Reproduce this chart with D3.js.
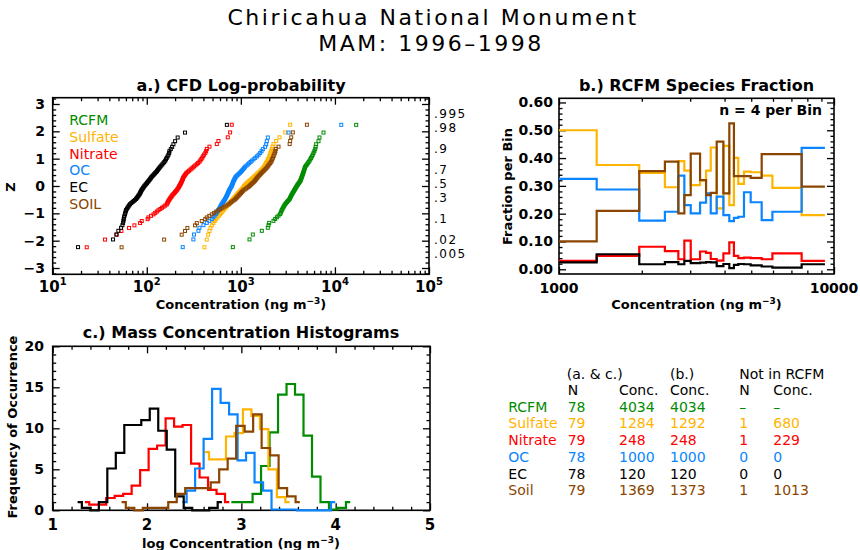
<!DOCTYPE html>
<html><head><meta charset="utf-8">
<script src="https://d3js.org/d3.v7.min.js"></script>
<style>html,body{margin:0;padding:0;background:#fff}svg{display:block}</style>
</head><body>
<svg id="chart" width="860" height="550" xmlns="http://www.w3.org/2000/svg"></svg>
<script>
// ================= DATA =================
const speciesNames  = ["RCFM","Sulfate","Nitrate","OC","EC","SOIL"];
const speciesColors = ["#008c00","#ffb400","#ff0000","#0a84ff","#000000","#8b4500"];

// a.) sorted daily concentrations (ng m-3)
const cfdRCFM = [822,1236,1341,1671,1935,1967,2000,2224,2316,2414,
  2515,2619,2655,2691,2728,2772,2818,2864,2912,2962,
  3025,3090,3157,3225,3294,3332,3370,3408,3447,3486,
  3531,3577,3624,3672,3720,3767,3815,3864,3913,3960,
  4020,4080,4140,4205,4274,4309,4344,4380,4416,4453,
  4489,4526,4563,4600,4637,4674,4712,4751,4790,4829,
  4932,5037,5144,5255,5370,5476,5584,5694,5806,5918,
  6042,6167,6240,6318,6690,6855,7564,16840];
const cfdSulfate = [410,434,449,464,475,491,511,528,546,564,
  583,602,619,636,653,669,686,703,720,738,
  754,771,788,805,822,838,855,872,889,906,
  923,942,960,980,999,1017,1036,1055,1074,1084,
  1105,1127,1149,1172,1205,1235,1266,1298,1330,1362,
  1395,1429,1464,1500,1539,1578,1618,1658,1698,1739,
  1768,1798,1828,1858,1888,1920,1952,1984,2016,2049,
  2070,2100,2135,2180,2224,2374,2575,2958,3343];
const cfdNitrate = [23.0,36.0,47.9,53.7,64.8,73.9,84.9,88.4,102,104,
  111,118,123,128,133,139,145,151,157,163,
  165,167,169,172,174,177,180,183,186,189,
  193,197,200,204,208,211,214,217,220,222,
  225,227,230,232,235,237,239,241,243,245,
  249,253,257,261,266,274,282,291,299,308,
  318,329,340,351,363,371,380,
  389,398,407,420,428,435,464,555,578,726,769,800];
const cfdOC = [241,313,318,354,363,400,434,463,491,511,
  526,541,553,566,578,588,598,607,617,627,
  637,648,658,669,680,688,696,704,712,720,
  727,734,741,748,756,765,775,784,793,803,
  809,815,822,828,835,845,854,864,874,884,
  905,926,951,975,999,1020,1042,1065,1088,1111,
  1148,1186,1225,1266,1309,1364,1422,1482,1543,1604,
  1659,1714,1812,1858,1888,1935,3212,11670];
const cfdEC = [18.6,43.8,47.5,49.9,53.3,55.1,56.0,56.5,56.9,57.4,
  58.0,58.7,59.2,59.8,60.3,61.5,62.7,63.9,65.1,66.4,
  68.4,70.5,72.6,74.7,76.9,78.2,79.5,80.9,82.2,83.6,
  84.5,85.5,86.4,87.3,88.3,89.6,91.0,92.4,93.7,95.2,
  97.0,98.7,100.5,102.2,104,105.8,107.6,109.4,111.2,113,
  115.5,118,120.5,123,126,128.5,131,133.5,136,139,
  142.5,146,150,153.5,157,160,163,166.5,170,173,
  174,180,186,192,200,213,255,710];
const cfdSoil = [54,153,235,255,270,326,340,384,417,434,
  462,491,519,548,578,607,638,670,703,738,
  762,787,814,841,869,887,906,926,946,966,
  985,1005,1025,1045,1066,1100,1135,1170,1205,1235,
  1260,1290,1320,1352,1384,1407,1431,1455,1479,1503,
  1535,1568,1601,1636,1671,1713,1756,1799,1843,1888,
  1928,1968,2010,2054,2100,2130,2160,2195,2228,2261,
  2300,2330,2355,2514,3300,3343,3430,3572,5037];

const probLabels = [".995",".98",".9",".7",".5",".3",".1",".02",".005"];
const probValues = [0.995,0.98,0.9,0.7,0.5,0.3,0.1,0.02,0.005];

// b.) species fraction of RCFM per bin of 4 samples
const fracBinEdges = [1000,1371,1958,2427,2716,2856,3013,3258,3426,3563,3745,3961,4162,4326,4487,4706,4978,5458,5970,7627,9268];
const fracSulfate = [0.500,0.375,0.347,0.295,0.389,0.355,0.303,0.320,0.355,0.438,0.219,0.444,0.231,0.401,0.307,0.351,0.349,0.337,0.293,0.195];
const fracNitrate = [0.030,0.048,0.081,0.065,0.036,0.103,0.036,0.064,0.059,0.037,0.031,0.057,0.097,0.048,0.040,0.042,0.040,0.036,0.057,0.030];
const fracOC      = [0.325,0.287,0.175,0.207,0.337,0.231,0.201,0.240,0.273,0.201,0.261,0.195,0.173,0.185,0.189,0.277,0.241,0.177,0.207,0.437];
const fracEC      = [0.025,0.054,0.018,0.026,0.018,0.030,0.022,0.024,0.026,0.025,0.011,0.019,0.004,0.016,0.019,0.018,0.014,0.010,0.006,0.018];
const fracSoil    = [0.100,0.210,0.353,0.387,0.201,0.267,0.416,0.321,0.267,0.275,0.459,0.273,0.525,0.335,0.335,0.335,0.329,0.414,0.414,0.297];

// c.) histograms of log10 concentration (first bin centre + frequencies)
const histBinWidth = 0.09;
const histStartRCFM = 2.894, histRCFM = [1.0,1.0,1.0,2.0,5.4,9.5,14.1,15.4,14.1,9.1,4.1,1.0,0.1,0.3,1.0];
const histStartSulfate = 2.612, histSulfate = [7.1,6.2,6.2,9.0,9.4,12.3,11.5,9.9,5.0,1.6,1.0];
const histStartNitrate = 1.342, histNitrate = [1.0,0.7,0.7,1.5,1.75,2.0,3.0,4.9,7.5,7.9,11.2,10.2,10.4,5.7,4.0,2.5,2.0,1.0];
const histStartOC = 2.375, histOC = [1.0,2.4,5.1,8.7,14.8,13.1,11.7,6.1,7.0,3.4,2.4,0.1,0.1,0.1,0,0,0,0,1.0];
const histStartEC = 1.264, histEC = [1.0,0.3,0,1.0,5.1,7.0,10.4,10.4,11.0,12.4,9.7,7.4,1.7,0.3,0,0,0.3,1.0];
const histStartSoil = 1.730, histSoil = [1.0,0.3,0,0.3,0.3,0.3,1.0,2.0,2.7,2.7,2.7,3.4,5.0,6.3,10.3,9.6,11.7,7.6,6.7,2.7,1.7,1.0];

// summary table
const tableRowNames = ["RCFM","Sulfate","Nitrate","OC","EC","Soil"];
const tableN        = ["78","79","79","78","78","79"];
const tableConcAC   = ["4034","1284","248","1000","120","1369"];
const tableConcB    = ["4034","1292","248","1000","120","1373"];
const tableNotN     = ["\u2013","1","1","0","0","1"];
const tableNotConc  = ["\u2013","680","229","0","0","1013"];

// ================= HELPERS =================
const svg = d3.select("#chart");
const FONT = "'DejaVu Sans', sans-serif";

function probit(p){
  const a=[-3.969683028665376e+01,2.209460984245205e+02,-2.759285104469687e+02,1.383577518672690e+02,-3.066479806614716e+01,2.506628277459239e+00];
  const b=[-5.447609879822406e+01,1.615858368580409e+02,-1.556989798598866e+02,6.680131188771972e+01,-1.328068155288572e+01];
  const c=[-7.784894002430293e-03,-3.223964580411365e-01,-2.400758277161838e+00,-2.549732539343734e+00,4.374664141464968e+00,2.938163982698783e+00];
  const d=[7.784695709041462e-03,3.224671290700398e-01,2.445134137142996e+00,3.754408661907416e+00];
  const pl=0.02425;
  if(p<pl){const q=Math.sqrt(-2*Math.log(p));return (((((c[0]*q+c[1])*q+c[2])*q+c[3])*q+c[4])*q+c[5])/((((d[0]*q+d[1])*q+d[2])*q+d[3])*q+1);}
  if(p>1-pl){const q=Math.sqrt(-2*Math.log(1-p));return -(((((c[0]*q+c[1])*q+c[2])*q+c[3])*q+c[4])*q+c[5])/((((d[0]*q+d[1])*q+d[2])*q+d[3])*q+1);}
  const q=p-0.5,r=q*q;
  return (((((a[0]*r+a[1])*r+a[2])*r+a[3])*r+a[4])*r+a[5])*q/(((((b[0]*r+b[1])*r+b[2])*r+b[3])*r+b[4])*r+1);
}

function text(x,y,s,o={}){
  const t = svg.append("text").attr("x",x).attr("y",y)
    .attr("font-family",FONT).attr("font-size",o.size||14)
    .attr("font-weight",o.bold?"bold":"normal")
    .attr("text-anchor",o.anchor||"start")
    .attr("fill",o.color||"#000").text(s);
  if(o.ls) t.attr("letter-spacing",o.ls);
  return t;
}

function ticks(scale, orient, pos, values, size){
  const mk = {bottom:d3.axisBottom,top:d3.axisTop,left:d3.axisLeft,right:d3.axisRight}[orient];
  const ax = mk(scale).tickValues(values).tickSizeInner(-size).tickSizeOuter(0).tickFormat("");
  const g = svg.append("g")
    .attr("transform",(orient==="bottom"||orient==="top")?`translate(0,${pos})`:`translate(${pos},0)`)
    .call(ax);
  g.select(".domain").remove();
  g.selectAll("line").attr("stroke","#000").attr("stroke-width",1.3);
}

function boxAxes(x, y, xMajor, xMinor, yMajor, yMinor){
  const [x0,x1] = x.range(), [y1,y0] = y.range();
  ticks(x,"bottom",y1,xMajor,7); ticks(x,"bottom",y1,xMinor,3.5);
  ticks(x,"top",y0,xMajor,7);    ticks(x,"top",y0,xMinor,3.5);
  ticks(y,"left",x0,yMajor,7);   ticks(y,"left",x0,yMinor,3.5);
  ticks(y,"right",x1,yMajor,7);  ticks(y,"right",x1,yMinor,3.5);
  svg.append("rect").attr("x",x0).attr("y",y0).attr("width",x1-x0).attr("height",y1-y0)
    .attr("fill","none").attr("stroke","#000").attr("stroke-width",1.6);
}

function axisTitle(x,y,pre,rot){
  const t = svg.append("text").attr("font-family",FONT).attr("font-size",13).attr("font-weight","bold")
    .attr("text-anchor","middle");
  if(rot){ t.attr("transform",`translate(${x},${y}) rotate(-90)`); } else { t.attr("x",x).attr("y",y); }
  t.append("tspan").text(pre);
  return t;
}
function concTitle(x,y,pre){
  const t = axisTitle(x,y,pre+"(ng m");
  t.append("tspan").attr("dy",-5).attr("font-size",9).text("\u22123");
  t.append("tspan").attr("dy",5).text(")");
}

// ================= TITLE =================
text(433,24.5,"Chiricahua National Monument",{size:22,anchor:"middle",ls:2.5});
text(431,50.5,"MAM: 1996\u20131998",{size:22,anchor:"middle",ls:2.5});

// ================= PANEL A =================
const xA = d3.scaleLog().domain([10,1e5]).range([52.7,429]);
const yA = d3.scaleLinear().domain([-3.23,3.23]).range([274.3,97.7]);
const decMinor = (lo,hi)=>{const r=[];for(let e=lo;e<hi;e++)for(let m=2;m<=9;m++)r.push(m*Math.pow(10,e));return r;};
const zMinor = d3.range(-16,17).map(i=>i/5).filter(v=>Math.abs(v-Math.round(v))>1e-9);
boxAxes(xA,yA,[10,100,1000,1e4,1e5],decMinor(1,5),d3.range(-3,4),zMinor);

text(241,91,"a.) CFD Log-probability",{size:16,bold:true,anchor:"middle"});
d3.range(-3,4).forEach(v=>text(45,yA(v)+5,String(v).replace("-","\u2212"),{size:14,bold:true,anchor:"end"}));
[1,2,3,4,5].forEach(e=>{
  const t = svg.append("text").attr("x",xA(Math.pow(10,e))).attr("y",292).attr("text-anchor","middle")
    .attr("font-family",FONT).attr("font-size",15).attr("font-weight","bold");
  t.append("tspan").text("10");
  t.append("tspan").attr("dy",-7).attr("font-size",10).text(String(e));
});
probLabels.forEach((s,i)=>text(434,yA(probit(probValues[i]))+2,s,{size:12,ls:1.5}));
axisTitle(15,187,"Z",true);
concTitle(241,309,"Concentration ");

const cfdSeries = [cfdRCFM,cfdSulfate,cfdNitrate,cfdOC,cfdEC,cfdSoil];
const gA = svg.append("g");
cfdSeries.forEach((vals,si)=>{
  const n = vals.length;
  gA.append("g").selectAll("rect").data(vals).join("rect")
    .attr("x",(v)=>xA(v)-1.5).attr("y",(v,i)=>yA(probit((i+1)/(n+1)))-1.5)
    .attr("width",3).attr("height",3)
    .attr("fill","none").attr("stroke",speciesColors[si]).attr("stroke-width",1);
});
speciesNames.forEach((s,i)=>text(69.3,125.3+16.7*i,s,{size:14,color:speciesColors[i]}));

// ================= PANEL B =================
const xB = d3.scaleLog().domain([1000,10000]).range([559,834]);
const yB = d3.scaleLinear().domain([-0.017,0.615]).range([274,98.3]);
const yBMajor = d3.range(0,7).map(i=>i/10);
const yBMinor = d3.range(0,31).map(i=>i/50).filter((v,i)=>i%5!==0);
boxAxes(xB,yB,[1000,10000],d3.range(2,10).map(m=>m*1000),yBMajor,yBMinor);
text(696.5,91,"b.) RCFM Species Fraction",{size:16,bold:true,anchor:"middle"});
yBMajor.forEach(v=>text(553,yB(v)+5,d3.format(".2f")(v),{size:14,bold:true,anchor:"end"}));
[1000,10000].forEach(v=>text(xB(v),293,String(v),{size:14,bold:true,anchor:"middle"}));
axisTitle(512,186.5,"Fraction per Bin",true);
concTitle(696.5,309,"Concentration ");
text(822,115,"n = 4 per Bin",{size:14,bold:true,anchor:"end"});

const fracSeries = [[fracSulfate,1],[fracNitrate,2],[fracOC,3],[fracEC,4],[fracSoil,5]];
const lineB = d3.line().x(d=>xB(d[0])).y(d=>yB(d[1])).curve(d3.curveStepAfter);
fracSeries.forEach(([vals,ci])=>{
  const pts = vals.map((v,i)=>[fracBinEdges[i],v]);
  pts.push([fracBinEdges[fracBinEdges.length-1],vals[vals.length-1]]);
  svg.append("path").attr("d",lineB(pts)).attr("fill","none")
    .attr("stroke",speciesColors[ci]).attr("stroke-width",2.2).attr("stroke-linejoin","miter");
});

// ================= PANEL C =================
const xC = d3.scaleLinear().domain([1,5]).range([52.7,430]);
const yC = d3.scaleLinear().domain([0,20]).range([510.3,346.3]);
boxAxes(xC,yC,[1,2,3,4,5],d3.range(5,26).map(i=>i/5).filter(v=>Math.abs(v-Math.round(v))>1e-9),
  [0,5,10,15,20],d3.range(0,21).filter(v=>v%5!==0));
text(241,338,"c.) Mass Concentration Histograms",{size:16,bold:true,anchor:"middle"});
[0,5,10,15,20].forEach(v=>text(44,yC(v)+5,String(v),{size:14,bold:true,anchor:"end"}));
[1,2,3,4,5].forEach(v=>text(xC(v),530,String(v),{size:15,bold:true,anchor:"middle"}));
axisTitle(17,427,"Frequency of Occurrence",true);
concTitle(241,548,"log Concentration ");

const histSeries = [[histStartRCFM,histRCFM,0],[histStartSulfate,histSulfate,1],[histStartNitrate,histNitrate,2],
  [histStartOC,histOC,3],[histStartEC,histEC,4],[histStartSoil,histSoil,5]];
const lineC = d3.line().x(d=>xC(d[0])).y(d=>yC(d[1])).curve(d3.curveStep);
histSeries.forEach(([s0,vals,ci])=>{
  const pts = vals.map((v,i)=>[s0+i*histBinWidth,v]);
  svg.append("path").attr("d",lineC(pts)).attr("fill","none")
    .attr("stroke",speciesColors[ci]).attr("stroke-width",2.2);
});

// ================= TABLE =================
const colX = [508.3,567.7,619,670,739.3,773.3];
text(566.7,378.5,"(a. & c.)",{size:14});
text(670,378.5,"(b.)",{size:14});
text(739.3,378.5,"Not in RCFM",{size:14});
[["N",567.7],["Conc.",619],["Conc.",670],["N",739.3],["Conc.",773.3]].forEach(([s,x])=>text(x,395,s,{size:14}));
tableRowNames.forEach((nm,i)=>{
  const y = 411.7+16.7*i, col = speciesColors[i];
  [nm,tableN[i],tableConcAC[i],tableConcB[i],tableNotN[i],tableNotConc[i]].forEach((s,j)=>
    text(colX[j],y,s,{size:14,color:col}));
});
</script>
</body></html>
